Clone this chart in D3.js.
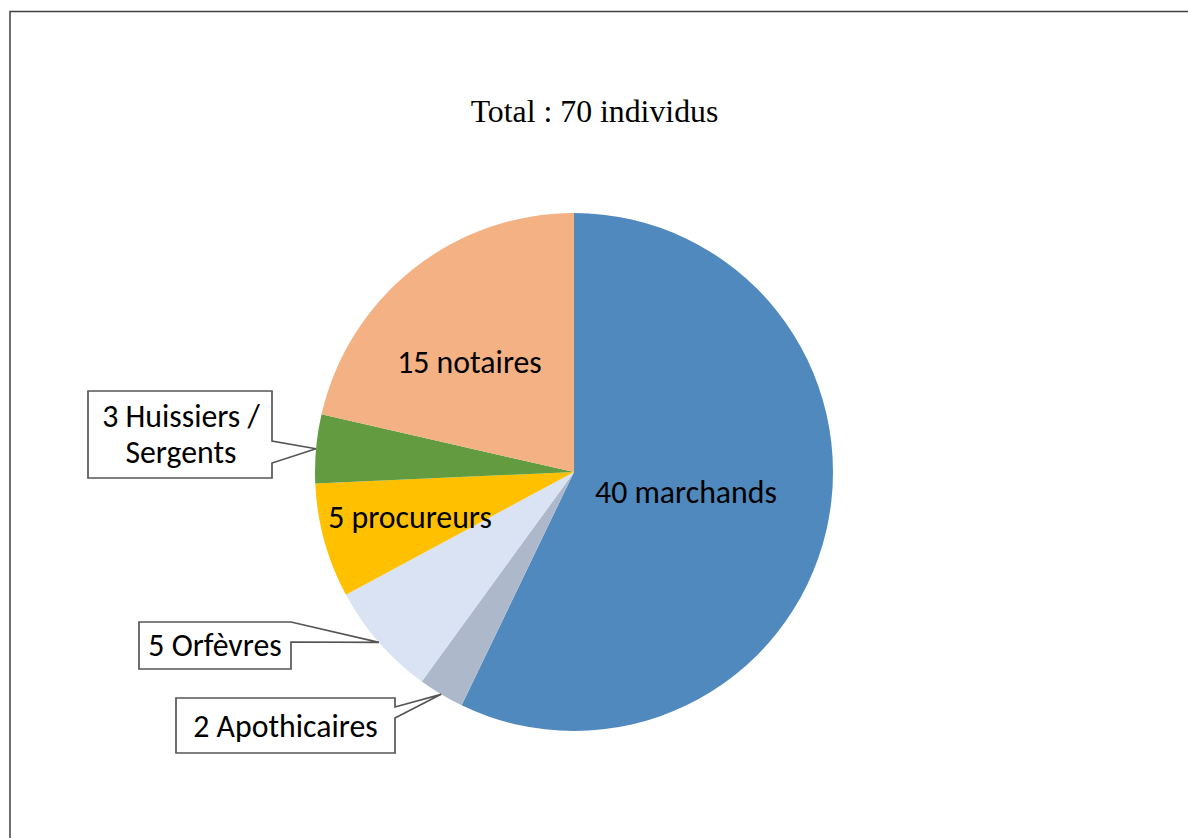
<!DOCTYPE html>
<html>
<head>
<meta charset="utf-8">
<script src="https://cdn.jsdelivr.net/npm/d3@7"></script>
<style>
  html, body { margin: 0; padding: 0; background: #fff; }
  svg { display: block; }
</style>
</head>
<body>
<svg id="chart" width="1188" height="838"></svg>
<script>
// ---- data ----
const title = "Total : 70 individus";
const categories = ["marchands", "Apothicaires", "Orfèvres", "procureurs", "Huissiers / Sergents", "notaires"];
const values = [40, 2, 5, 5, 3, 15];
const labelLines = [
  ["40 marchands"],
  ["2 Apothicaires"],
  ["5 Orfèvres"],
  ["5 procureurs"],
  ["3 Huissiers /", "Sergents"],
  ["15 notaires"]
];
const colors = ["#4F89BD", "#ADB9CA", "#DAE3F3", "#FFC000", "#629B40", "#F4B183"];

// ---- layout ----
const W = 1188, H = 838;
const cx = 574, cy = 472, R = 259;
const svg = d3.select("#chart");

// frame
svg.append("rect")
  .attr("x", 10).attr("y", 11.5)
  .attr("width", 1300).attr("height", 1000)
  .attr("fill", "none").attr("stroke", "#404040").attr("stroke-width", 1.5);

// title
svg.append("text")
  .attr("x", 594.5).attr("y", 121.5)
  .attr("text-anchor", "middle")
  .attr("font-family", "'Liberation Serif', 'Times New Roman', serif")
  .attr("font-size", 31.8)
  .attr("fill", "#000")
  .text(title);

const pie = d3.pie().sort(null).value(d => d).startAngle(0).endAngle(2 * Math.PI);
const arcs = pie(values);
const arc = d3.arc().innerRadius(0).outerRadius(R);
const edgeArc = d3.arc().innerRadius(R).outerRadius(R);

const g = svg.append("g").attr("transform", `translate(${cx},${cy})`);
g.selectAll("path.slice")
  .data(arcs)
  .join("path")
  .attr("class", "slice")
  .attr("d", arc)
  .attr("fill", (d, i) => colors[i]);

// font size fitted so label widths resemble Calibri 24pt
const labelFont = "Carlito, Calibri, Lato, 'Open Sans', sans-serif";
const probe = svg.append("text").attr("font-family", labelFont).attr("font-size", 100).text("40 marchands");
const probeW = probe.node().getComputedTextLength();
probe.remove();
const fs = 100 * 182 / probeW;

// inside labels (layout positions for text anchors, relative to center)
const insideLabels = { 0: [112, 31], 3: [-164, 56], 5: [-104.5, -99] };
Object.entries(insideLabels).forEach(([i, p]) => {
  g.append("text")
    .attr("x", p[0]).attr("y", p[1])
    .attr("text-anchor", "middle")
    .attr("font-family", labelFont)
    .attr("font-size", fs)
    .attr("fill", "#000")
    .text(labelLines[i][0]);
});

// callouts: box [x0,y0,x1,y1] in page coords, pointer base on right edge [ya, yb], baselines
const callouts = [
  { i: 4, box: [88, 391, 272, 478], base: [441, 463], tx: 181, baselines: [427, 463] },
  { i: 2, box: [139, 622, 291, 669], base: [622, 642], tx: 215, baselines: [656] },
  { i: 1, box: [176, 698, 395, 753], base: [707, 718], tx: 285.5, baselines: [737] }
];
callouts.forEach(c => {
  const tip = edgeArc.centroid(arcs[c.i]);
  const tx = tip[0] + cx, ty = tip[1] + cy;
  const [x0, y0, x1, y1] = c.box;
  const [ya, yb] = c.base;
  const p = d3.path();
  p.moveTo(x0, y0);
  p.lineTo(x1, y0);
  if (ya > y0) p.lineTo(x1, ya);
  p.lineTo(tx, ty);
  p.lineTo(x1, yb);
  p.lineTo(x1, y1);
  p.lineTo(x0, y1);
  p.closePath();
  svg.append("path")
    .attr("d", p.toString())
    .attr("fill", "#fff")
    .attr("stroke", "#555")
    .attr("stroke-width", 1.7)
    .attr("stroke-linejoin", "miter");
  labelLines[c.i].forEach((line, k) => {
    svg.append("text")
      .attr("x", c.tx).attr("y", c.baselines[k])
      .attr("text-anchor", "middle")
      .attr("font-family", labelFont)
      .attr("font-size", fs)
      .attr("fill", "#000")
      .text(line);
  });
});
</script>
</body>
</html>
